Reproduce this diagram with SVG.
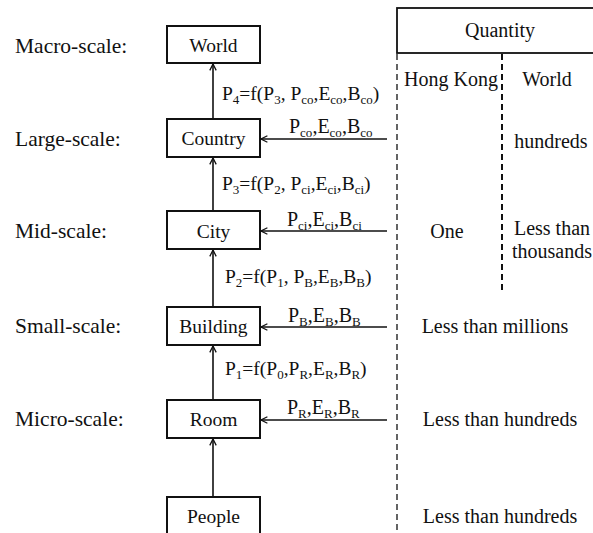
<svg xmlns="http://www.w3.org/2000/svg" width="593" height="533" viewBox="0 0 593 533">
<defs>
<style>
text{font-family:"Liberation Serif","Times New Roman",serif;font-size:20px;fill:#111;}
.c{text-anchor:middle;}
.lab{font-size:21.5px;}
.nd{font-size:19.5px;}
.f{font-size:19.5px;}
.s{font-size:13px;}
.box{fill:#fff;stroke:#111;stroke-width:2;}
.ln{stroke:#111;stroke-width:1.6;fill:none;}
.dash{stroke:#111;stroke-width:1.3;stroke-dasharray:6 4;fill:none;}
.dash2{stroke:#111;stroke-width:2;stroke-dasharray:6 4;fill:none;}
</style>
<marker id="arr" viewBox="0 0 10 10" refX="9" refY="5" markerWidth="8" markerHeight="8" orient="auto" markerUnits="userSpaceOnUse">
<path d="M1,1 L9,5 L1,9" fill="none" stroke="#111" stroke-width="1.6"/>
</marker>
</defs>
<rect width="593" height="533" fill="#fff"/>

<g id="scale-labels">
<text class="lab" x="15" y="53">Macro-scale:</text>
<text class="lab" x="15" y="146">Large-scale:</text>
<text class="lab" x="15" y="238">Mid-scale:</text>
<text class="lab" x="15" y="333">Small-scale:</text>
<text class="lab" x="15" y="426">Micro-scale:</text>
</g>

<g id="connectors">
<line class="ln" x1="213" y1="119" x2="213" y2="64" marker-end="url(#arr)"/>
<line class="ln" x1="213" y1="211" x2="213" y2="158" marker-end="url(#arr)"/>
<line class="ln" x1="213" y1="307" x2="213" y2="250" marker-end="url(#arr)"/>
<line class="ln" x1="213" y1="400" x2="213" y2="346" marker-end="url(#arr)"/>
<line class="ln" x1="213" y1="497" x2="213" y2="439" marker-end="url(#arr)"/>
<line class="ln" x1="387" y1="139" x2="261" y2="139" marker-end="url(#arr)"/>
<line class="ln" x1="387" y1="231" x2="261" y2="231" marker-end="url(#arr)"/>
<line class="ln" x1="387" y1="327" x2="261" y2="327" marker-end="url(#arr)"/>
<line class="ln" x1="387" y1="420" x2="261" y2="420" marker-end="url(#arr)"/>
<text class="f" x="222" y="100">P<tspan class="s" x="232.8" dy="4">4</tspan><tspan x="239.3" dy="-4">=f(P</tspan><tspan class="s" x="274.2" dy="4">3</tspan><tspan x="280.7" dy="-4">, P</tspan><tspan class="s" x="301.3" dy="4">co</tspan><tspan x="313.5" dy="-4">,E</tspan><tspan class="s" x="330.3" dy="4">co</tspan><tspan x="342.6" dy="-4">,B</tspan><tspan class="s" x="360.5" dy="4">co</tspan><tspan x="372.7" dy="-4">)</tspan></text>
<text class="f" x="222" y="190">P<tspan class="s" x="232.8" dy="4">3</tspan><tspan x="239.3" dy="-4">=f(P</tspan><tspan class="s" x="274.2" dy="4">2</tspan><tspan x="280.7" dy="-4">, P</tspan><tspan class="s" x="301.3" dy="4">ci</tspan><tspan x="310.7" dy="-4">,E</tspan><tspan class="s" x="327.4" dy="4">ci</tspan><tspan x="336.8" dy="-4">,B</tspan><tspan class="s" x="354.7" dy="4">ci</tspan><tspan x="364.1" dy="-4">)</tspan></text>
<text class="f" x="225" y="283">P<tspan class="s" x="235.8" dy="4">2</tspan><tspan x="242.3" dy="-4">=f(P</tspan><tspan class="s" x="277.2" dy="4">1</tspan><tspan x="283.7" dy="-4">, P</tspan><tspan class="s" x="304.3" dy="4">B</tspan><tspan x="312.9" dy="-4">,E</tspan><tspan class="s" x="329.7" dy="4">B</tspan><tspan x="338.4" dy="-4">,B</tspan><tspan class="s" x="356.3" dy="4">B</tspan><tspan x="364.9" dy="-4">)</tspan></text>
<text class="f" x="225" y="375">P<tspan class="s" x="235.8" dy="4">1</tspan><tspan x="242.3" dy="-4">=f(P</tspan><tspan class="s" x="277.2" dy="4">0</tspan><tspan x="283.7" dy="-4">,P</tspan><tspan class="s" x="299.4" dy="4">R</tspan><tspan x="308.1" dy="-4">,E</tspan><tspan class="s" x="324.9" dy="4">R</tspan><tspan x="333.5" dy="-4">,B</tspan><tspan class="s" x="351.4" dy="4">R</tspan><tspan x="360.1" dy="-4">)</tspan></text>
<text x="289" y="133">P<tspan class="s" x="300.1" dy="4">co</tspan><tspan x="312.4" dy="-4">,E</tspan><tspan class="s" x="329.6" dy="4">co</tspan><tspan x="341.9" dy="-4">,B</tspan><tspan class="s" x="360.2" dy="4">co</tspan></text>
<text x="287" y="226">P<tspan class="s" x="298.1" dy="4">ci</tspan><tspan x="307.5" dy="-4">,E</tspan><tspan class="s" x="324.7" dy="4">ci</tspan><tspan x="334.1" dy="-4">,B</tspan><tspan class="s" x="352.5" dy="4">ci</tspan></text>
<text x="288" y="322">P<tspan class="s" x="299.1" dy="4">B</tspan><tspan x="307.8" dy="-4">,E</tspan><tspan class="s" x="325" dy="4">B</tspan><tspan x="333.7" dy="-4">,B</tspan><tspan class="s" x="352" dy="4">B</tspan></text>
<text x="287" y="414">P<tspan class="s" x="298.1" dy="4">R</tspan><tspan x="306.8" dy="-4">,E</tspan><tspan class="s" x="324" dy="4">R</tspan><tspan x="332.7" dy="-4">,B</tspan><tspan class="s" x="351" dy="4">R</tspan></text>
</g>

<g id="world"><rect class="box" x="167" y="26" width="93" height="37"/><text class="c nd" x="213.5" y="52">World</text></g>
<g id="country"><rect class="box" x="167" y="119" width="93" height="38"/><text class="c nd" x="213.5" y="145">Country</text></g>
<g id="city"><rect class="box" x="167" y="211" width="93" height="38"/><text class="c nd" x="213.5" y="238">City</text></g>
<g id="building"><rect class="box" x="167" y="307" width="93" height="38"/><text class="c nd" x="213.5" y="333">Building</text></g>
<g id="room"><rect class="box" x="167" y="400" width="93" height="38"/><text class="c nd" x="213.5" y="426">Room</text></g>
<g id="people"><rect class="box" x="167" y="497" width="93" height="50"/><text class="c nd" x="213.5" y="523">People</text></g>

<g id="quantity-table">
<rect x="397" y="8" width="210" height="45" fill="none" stroke="#111" stroke-width="1.8"/>
<text class="c" x="500" y="37">Quantity</text>
<line class="dash" x1="397" y1="54" x2="397" y2="533"/>
<line class="dash2" x1="502" y1="54" x2="502" y2="294"/>
<text class="c" x="451" y="86" font-size="19">Hong Kong</text>
<text class="c" x="547" y="86">World</text>
<text class="c" x="551" y="148">hundreds</text>
<text class="c" x="447" y="238">One</text>
<text class="c" x="552" y="235">Less than</text>
<text class="c" x="552" y="258">thousands</text>
<text class="c" x="495" y="333">Less than millions</text>
<text class="c" x="500" y="426">Less than hundreds</text>
<text class="c" x="500" y="523">Less than hundreds</text>
</g>
</svg>
